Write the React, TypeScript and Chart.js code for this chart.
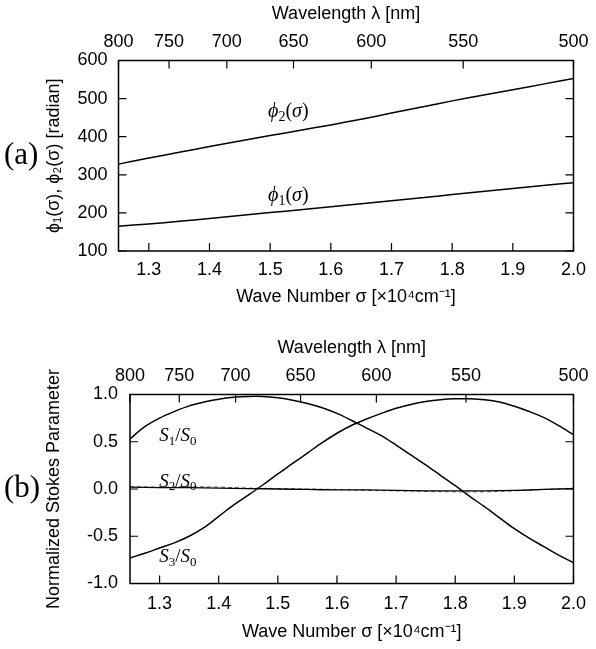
import React, { useEffect, useRef } from "react";
import { Chart, registerables } from "chart.js";

Chart.register(...registerables);

// ---------- data ----------
const sigmaA = [1.25, 1.3, 1.35, 1.4, 1.45, 1.5, 1.55, 1.6, 1.65, 1.7, 1.75, 1.8, 1.85, 1.9, 1.95, 2.0];
const phi1 = [165, 171, 178, 185, 193, 201, 208, 216, 224, 232, 240, 248, 256, 264, 272, 279];
const phi2 = [328, 344, 359, 374, 389, 403, 417, 431, 446, 462, 478, 494, 509, 523, 538, 553];

const sigmaB = [
  1.25, 1.275, 1.3, 1.325, 1.35, 1.375, 1.4, 1.425, 1.45, 1.475, 1.5, 1.525, 1.55, 1.575, 1.6, 1.625,
  1.65, 1.675, 1.7, 1.725, 1.75, 1.775, 1.8, 1.825, 1.85, 1.875, 1.9, 1.925, 1.95, 1.975, 2.0,
];
const s1 = [
  0.53, 0.66, 0.75, 0.82, 0.88, 0.92, 0.95, 0.97, 0.98, 0.98, 0.965, 0.94, 0.905, 0.86, 0.8, 0.725,
  0.645, 0.565, 0.465, 0.36, 0.255, 0.145, 0.035, -0.08, -0.19, -0.305, -0.42, -0.52, -0.61, -0.7, -0.78,
];
const s3 = [
  -0.73, -0.68, -0.625, -0.57, -0.5, -0.41, -0.29, -0.17, -0.065, 0.045, 0.16, 0.27, 0.38, 0.49, 0.59, 0.675,
  0.74, 0.8, 0.855, 0.895, 0.925, 0.945, 0.955, 0.955, 0.945, 0.92, 0.875, 0.82, 0.755, 0.67, 0.575,
];
const sigmaS2 = [1.25, 1.3, 1.35, 1.4, 1.45, 1.5, 1.55, 1.6, 1.65, 1.7, 1.75, 1.8, 1.85, 1.9, 1.95, 2.0];
const s2 = [0.02, 0.015, 0.015, 0.01, 0.005, 0.0, -0.005, -0.01, -0.01, -0.015, -0.02, -0.02, -0.02, -0.015, -0.005, 0.005];
const s2b = [0.025, 0.02, 0.025, 0.02, 0.01, 0.005, 0.0, -0.005, -0.015, -0.02, -0.025, -0.03, -0.03, -0.02, -0.005, 0.01];

const sigmaTicks = [1.3, 1.4, 1.5, 1.6, 1.7, 1.8, 1.9, 2.0];
const wavelengthTicks = [800, 750, 700, 650, 600, 550, 500];
const phiTicks = [100, 200, 300, 400, 500, 600];
const stokesTicks = [-1.0, -0.5, 0.0, 0.5, 1.0];

// ---------- styles ----------
const SANS = "'Liberation Sans', Arial, Helvetica, sans-serif";
const SERIF = "'Liberation Serif', 'Times New Roman', 'DejaVu Serif', serif";

type Seg = { t: string; sub?: boolean; italic?: boolean };

function drawRich(ctx: CanvasRenderingContext2D, segs: Seg[], cx: number, cy: number, size: number) {
  const fontFor = (s: Seg) =>
    `${s.italic ? "italic " : ""}${s.sub ? Math.round(size * 0.7) : size}px ${SERIF}`;
  let w = 0;
  for (const s of segs) {
    ctx.font = fontFor(s);
    w += ctx.measureText(s.t).width;
  }
  let x = cx - w / 2;
  const base = cy + size * 0.3;
  ctx.textAlign = "left";
  ctx.textBaseline = "alphabetic";
  ctx.fillStyle = "#000";
  for (const s of segs) {
    ctx.font = fontFor(s);
    ctx.fillText(s.t, x, s.sub ? base + size * 0.2 : base);
    x += ctx.measureText(s.t).width;
  }
}

const framePlugin = {
  id: "frame",
  afterDatasetsDraw(chart: any, _args: any, opts: any) {
    const { ctx, chartArea: a, scales } = chart;
    ctx.save();
    ctx.strokeStyle = "#000";
    ctx.lineWidth = 1.5;
    ctx.strokeRect(a.left, a.top, a.right - a.left, a.bottom - a.top);
    ctx.lineWidth = 1.2;
    const L = 8;
    ctx.beginPath();
    for (const t of scales.x.ticks) {
      const px = scales.x.getPixelForValue(t.value);
      ctx.moveTo(px, a.bottom);
      ctx.lineTo(px, a.bottom - L);
    }
    for (const t of scales.x2.ticks) {
      const px = scales.x2.getPixelForValue(t.value);
      ctx.moveTo(px, a.top);
      ctx.lineTo(px, a.top + L);
    }
    for (const t of scales.y.ticks) {
      const py = scales.y.getPixelForValue(t.value);
      ctx.moveTo(a.left, py);
      ctx.lineTo(a.left + L, py);
      ctx.moveTo(a.right, py);
      ctx.lineTo(a.right - L, py);
    }
    ctx.stroke();

    for (const lab of opts.labels || []) {
      const px = scales.x.getPixelForValue(lab.x);
      const py = scales.y.getPixelForValue(lab.y);
      drawRich(ctx, lab.segs, px, py, lab.size);
    }

    ctx.font = `31px ${SERIF}`;
    ctx.fillStyle = "#000";
    ctx.textAlign = "left";
    ctx.textBaseline = "middle";
    ctx.fillText(opts.panel, 4, (a.top + a.bottom) / 2);
    ctx.restore();
  },
};

function pts(xs: number[], ys: number[]) {
  return xs.map((x, i) => ({ x, y: ys[i] }));
}

type PanelSpec = {
  datasets: any[];
  yMin: number;
  yMax: number;
  yTicks: number[];
  yFmt: (v: number) => string;
  yTitle: string;
  leftW: number;
  yPad: number;
  bottomH: number;
  bottomLabelPad: number;
  bottomTitlePad: number;
  labels: any[];
  panel: string;
};

function makeConfig(p: PanelSpec): any {
  const tickFont = { family: SANS, size: 18 };
  return {
    type: "scatter",
    data: { datasets: p.datasets },
    options: {
      animation: false,
      responsive: false,
      maintainAspectRatio: false,
      layout: { padding: { left: 0, right: 18, top: 0, bottom: 0 } },
      plugins: {
        legend: { display: false },
        tooltip: { enabled: false },
        frame: { labels: p.labels, panel: p.panel },
      },
      scales: {
        x: {
          type: "linear",
          position: "bottom",
          min: 1.25,
          max: 2.0,
          afterBuildTicks: (s: any) => {
            s.ticks = sigmaTicks.map((v) => ({ value: v }));
          },
          ticks: {
            callback: (v: any) => Number(v).toFixed(1),
            font: tickFont,
            color: "#000",
            padding: p.bottomLabelPad,
            maxRotation: 0,
            autoSkip: false,
          },
          grid: { display: false, drawTicks: false },
          border: { display: false },
          title: {
            display: true,
            text: "Wave Number σ [×10⁴cm⁻¹]",
            font: { family: SANS, size: 18 },
            color: "#000",
            padding: { top: 0, bottom: p.bottomTitlePad },
          },
          afterFit: (s: any) => {
            s.height = p.bottomH;
          },
        },
        x2: {
          type: "linear",
          position: "top",
          min: 1.25,
          max: 2.0,
          afterBuildTicks: (s: any) => {
            s.ticks = wavelengthTicks.map((w) => ({ value: 1000 / w }));
          },
          ticks: {
            callback: (v: any) => String(Math.round(1000 / Number(v))),
            font: tickFont,
            color: "#000",
            padding: 7.5,
            maxRotation: 0,
            autoSkip: false,
          },
          grid: { display: false, drawTicks: false },
          border: { display: false },
          title: {
            display: true,
            text: "Wavelength λ [nm]",
            font: { family: SANS, size: 18 },
            color: "#000",
            padding: { top: 3, bottom: 0 },
          },
          afterFit: (s: any) => {
            s.height = 60.5;
          },
        },
        y: {
          type: "linear",
          position: "left",
          min: p.yMin,
          max: p.yMax,
          afterBuildTicks: (s: any) => {
            s.ticks = p.yTicks.map((v) => ({ value: v }));
          },
          ticks: {
            callback: (v: any) => p.yFmt(Number(v)),
            font: tickFont,
            color: "#000",
            padding: p.yPad,
            autoSkip: false,
          },
          grid: { display: false, drawTicks: false },
          border: { display: false },
          title: {
            display: true,
            text: p.yTitle,
            font: { family: SANS, size: 18 },
            color: "#000",
            padding: { top: 43, bottom: 0 },
          },
          afterFit: (s: any) => {
            s.width = p.leftW;
          },
        },
      },
    },
    plugins: [framePlugin],
  };
}

const lineStyle = {
  showLine: true,
  pointRadius: 0,
  borderColor: "#000",
  borderWidth: 1.5,
  fill: false,
  tension: 0.35,
};

const specA: PanelSpec = {
  datasets: [
    { ...lineStyle, label: "φ1(σ)", data: pts(sigmaA, phi1) },
    { ...lineStyle, label: "φ2(σ)", data: pts(sigmaA, phi2) },
  ],
  yMin: 100,
  yMax: 600,
  yTicks: phiTicks,
  yFmt: (v) => String(Math.round(v)),
  yTitle: "ϕ₁(σ), ϕ₂(σ) [radian]",
  leftW: 118.5,
  yPad: 11,
  bottomH: 83,
  bottomLabelPad: 8.7,
  bottomTitlePad: 26,
  panel: "(a)",
  labels: [
    { x: 1.53, y: 467, size: 20, segs: [{ t: "ϕ", italic: true }, { t: "2", sub: true }, { t: "(" }, { t: "σ", italic: true }, { t: ")" }] },
    { x: 1.53, y: 247, size: 20, segs: [{ t: "ϕ", italic: true }, { t: "1", sub: true }, { t: "(" }, { t: "σ", italic: true }, { t: ")" }] },
  ],
};

const specB: PanelSpec = {
  datasets: [
    { ...lineStyle, label: "S1/S0", data: pts(sigmaB, s1) },
    { ...lineStyle, label: "S3/S0", data: pts(sigmaB, s3) },
    { ...lineStyle, label: "S2/S0", data: pts(sigmaS2, s2), borderWidth: 1.3 },
    { ...lineStyle, label: "S2/S0 (dashed)", data: pts(sigmaS2, s2b), borderColor: "#666", borderWidth: 1, borderDash: [4, 3] },
  ],
  yMin: -1,
  yMax: 1,
  yTicks: stokesTicks,
  yFmt: (v) => v.toFixed(1),
  yTitle: "Normalized Stokes Parameter",
  leftW: 130,
  yPad: 12,
  bottomH: 65.5,
  bottomLabelPad: 9.7,
  bottomTitlePad: 6,
  panel: "(b)",
  labels: [
    { x: 1.331, y: 0.571, size: 19, segs: [{ t: "S", italic: true }, { t: "1", sub: true }, { t: "/" }, { t: "S", italic: true }, { t: "0", sub: true }] },
    { x: 1.331, y: 0.085, size: 19, segs: [{ t: "S", italic: true }, { t: "2", sub: true }, { t: "/" }, { t: "S", italic: true }, { t: "0", sub: true }] },
    { x: 1.331, y: -0.709, size: 19, segs: [{ t: "S", italic: true }, { t: "3", sub: true }, { t: "/" }, { t: "S", italic: true }, { t: "0", sub: true }] },
  ],
};

function Panel({ spec, top, height }: { spec: PanelSpec; top: number; height: number }) {
  const ref = useRef<HTMLCanvasElement | null>(null);
  useEffect(() => {
    if (!ref.current) return;
    const chart = new Chart(ref.current, makeConfig(spec));
    return () => chart.destroy();
  }, [spec]);
  return (
    <canvas
      ref={ref}
      width={596}
      height={height}
      style={{ position: "absolute", left: 0, top, width: 596, height, display: "block" }}
    />
  );
}

export default function App() {
  return (
    <div style={{ position: "absolute", left: 0, top: 0, width: 596, height: 649, background: "#fff" }}>
      <Panel spec={specA} top={0} height={334} />
      <Panel spec={specB} top={334} height={315} />
    </div>
  );
}
